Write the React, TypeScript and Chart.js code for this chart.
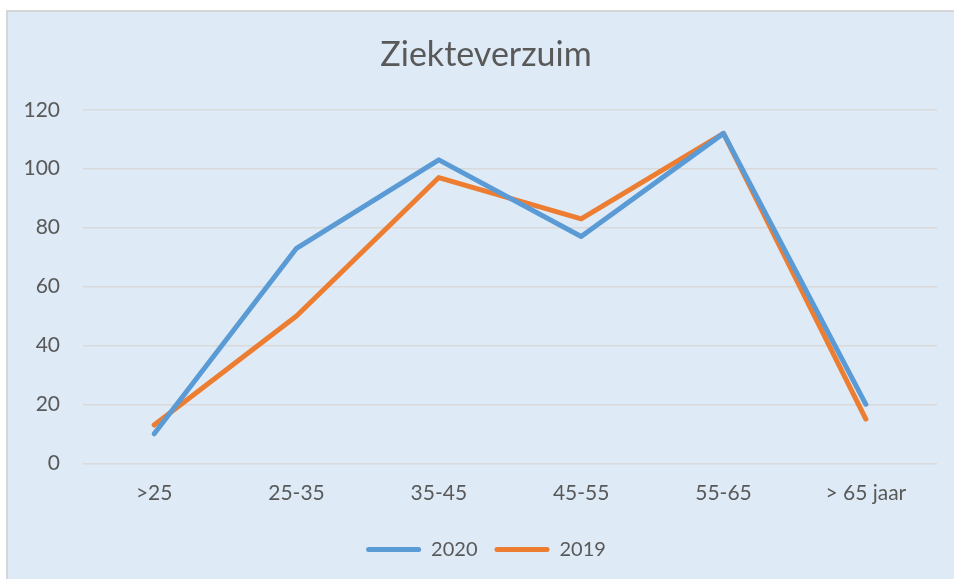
import React, { useEffect, useRef } from "react";
import { Chart, registerables } from "chart.js";

Chart.register(...registerables);

const categories = [">25", "25-35", "35-45", "45-55", "55-65", "> 65 jaar"];
const values2020 = [10, 73, 103, 77, 112, 20];
const values2019 = [13, 50, 97, 83, 112, 15];
const yTicks = [0, 20, 40, 60, 80, 100, 120];
const seriesNames = ["2020", "2019"];
const titleText = "Ziekteverzuim";

const FONT = "Lato, 'Open Sans', sans-serif";
const TEXT = "#595959";
const BLUE = "#5B9BD5";
const ORANGE = "#ED7D31";

export default function App() {
  const ref = useRef<HTMLCanvasElement | null>(null);
  useEffect(() => {
    if (!ref.current) return;
    const chart = new Chart(ref.current, {
      type: "line",
      data: {
        labels: categories,
        datasets: [
          {
            label: seriesNames[0],
            data: values2020,
            borderColor: BLUE,
            backgroundColor: BLUE,
            borderWidth: 5,
            pointRadius: 0,
            borderCapStyle: "round",
            borderJoinStyle: "round",
            tension: 0,
            yAxisID: "y",
          },
          {
            label: seriesNames[1],
            data: values2019,
            borderColor: ORANGE,
            backgroundColor: ORANGE,
            borderWidth: 5,
            pointRadius: 0,
            borderCapStyle: "round",
            borderJoinStyle: "round",
            tension: 0,
            yAxisID: "y",
          },
        ],
      },
      options: {
        animation: false,
        responsive: false,
        maintainAspectRatio: false,
        layout: { padding: { left: 0, right: -18, top: 0, bottom: 9.5 } },
        plugins: {
          title: {
            display: true,
            text: titleText,
            color: TEXT,
            font: { family: FONT, size: 34, weight: "normal" },
            padding: { top: 35, bottom: 34 },
          },
          legend: {
            display: true,
            position: "bottom",
            labels: {
              color: TEXT,
              font: { family: FONT, size: 20 },
              boxWidth: 55,
              boxHeight: 5,
              padding: 17,
              useBorderRadius: true,
              generateLabels: (c: any) =>
                c.data.datasets.map((ds: any, i: number) => ({
                  text: ds.label,
                  fillStyle: ds.borderColor,
                  strokeStyle: ds.borderColor,
                  lineWidth: 0,
                  borderRadius: 2.5,
                  fontColor: TEXT,
                  datasetIndex: i,
                  hidden: false,
                })),
            },
          },
          tooltip: { enabled: false },
        },
        scales: {
          x: {
            offset: true,
            grid: { display: false, drawTicks: false },
            border: { display: false },
            ticks: {
              color: TEXT,
              font: { family: FONT, size: 21 },
              padding: 17,
              maxRotation: 0,
            },
          },
          y: {
            position: "left",
            min: 0,
            max: 120,
            afterBuildTicks: (s: any) => {
              s.ticks = yTicks.map((v) => ({ value: v }));
            },
            afterFit: (s: any) => {
              s.width = 83;
            },
            grid: { color: "#D9D9D9", lineWidth: 1.5, drawTicks: false },
            border: { display: false },
            ticks: {
              color: TEXT,
              font: { family: FONT, size: 21 },
              padding: 23,
            },
          },
          y2: {
            type: "linear",
            position: "right",
            display: true,
            grid: { display: false, drawTicks: false },
            border: { display: false },
            ticks: { display: false },
            afterFit: (s: any) => {
              s.width = 35;
            },
          },
        },
      },
    });
    return () => chart.destroy();
  }, []);

  return (
    <div
      style={{
        position: "absolute",
        left: 0,
        top: 0,
        width: 954,
        height: 579,
        background: "#FFFFFF",
        overflow: "hidden",
      }}
    >
      <div
        style={{
          position: "absolute",
          left: 6,
          top: 10,
          width: 960,
          height: 580,
          background: "#DEEAF6",
          borderLeft: "2px solid #D6D6D6",
          borderTop: "2px solid #D6D6D6",
        }}
      />
      <canvas
        ref={ref}
        width={954}
        height={579}
        style={{ position: "absolute", left: 0, top: 0 }}
      />
    </div>
  );
}
